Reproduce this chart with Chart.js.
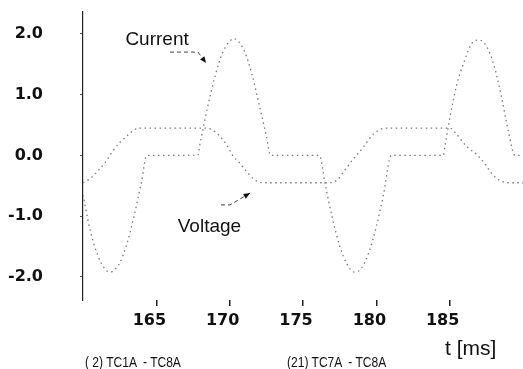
<!DOCTYPE html>
<html>
<head>
<meta charset="utf-8">
<script src="https://cdn.jsdelivr.net/npm/chart.js@4"></script>
<style>
  html, body { margin: 0; padding: 0; background: #fff; }
  #wrap { position: relative; width: 523px; height: 369px; }
  .note { position: absolute; color: #111; white-space: pre; line-height: 1; }
  .foot { font-family: "Liberation Sans Narrow", "Arial Narrow", "Liberation Sans", sans-serif; font-size: 14px; top: 355px;
          transform: scaleX(0.86); transform-origin: left center; }
  #unit { font-family: "Liberation Sans", Arial, sans-serif; font-size: 21px; left: 445px; top: 337px; }
</style>
</head>
<body>
<div id="wrap">
  <canvas id="scope" width="523" height="369"></canvas>
  <div class="note foot" style="left:85px">( 2) TC1A  - TC8A</div>
  <div class="note foot" style="left:287px">(21) TC7A  - TC8A</div>
  <div class="note" id="unit">t [ms]</div>
</div>
<script>
// time axis in ms
const currentT = [160.0, 160.5, 161.0, 161.5, 161.84, 162.0, 162.5, 163.0, 163.5, 164.0, 164.35,
                  167.82, 168.0, 168.5, 169.0, 169.5, 170.0, 170.3, 170.5, 171.0, 171.5, 172.0, 172.5, 172.79,
                  176.12, 176.5, 177.0, 177.5, 178.0, 178.5, 179.0, 179.5, 180.0, 180.5, 181.02,
                  184.56, 184.7, 185.0, 185.5, 186.0, 186.5, 187.0, 187.5, 188.0, 188.5, 189.0, 189.46, 190.0];
const currentA = [-0.65, -1.24, -1.64, -1.87, -1.92, -1.91, -1.77, -1.45, -0.98, -0.42, 0,
                  0, 0.22, 0.80, 1.30, 1.68, 1.88, 1.92, 1.90, 1.72, 1.35, 0.85, 0.32, 0,
                  0, -0.46, -1.03, -1.49, -1.79, -1.92, -1.85, -1.59, -1.17, -0.63, 0,
                  0, 0.18, 0.60, 1.18, 1.55, 1.84, 1.90, 1.80, 1.50, 1.00, 0.40, 0, 0];

const voltageT = [160.0, 160.5, 161.0, 161.5, 162.0, 162.5, 163.0, 163.5, 163.8,
                  168.3, 168.8, 169.5, 169.9, 170.2, 170.7, 171.0, 171.7, 172.3,
                  176.7, 177.3, 177.8, 178.2, 178.64, 179.0, 179.3, 179.8, 180.2, 180.7,
                  185.0, 185.4, 186.1, 186.9, 187.5, 187.8, 188.4, 189.0, 190.0];
const voltageV = [-0.45, -0.38, -0.26, -0.12, 0.06, 0.21, 0.32, 0.42, 0.45,
                  0.45, 0.42, 0.27, 0.13, 0, -0.13, -0.22, -0.40, -0.45,
                  -0.45, -0.41, -0.26, -0.13, 0, 0.10, 0.20, 0.35, 0.42, 0.45,
                  0.45, 0.37, 0.16, 0, -0.17, -0.28, -0.41, -0.45, -0.45];

const xLabels = [165, 170, 175, 180, 185];
const yLabels = [-2, -1, 0, 1, 2];

// labels inside the plot, placed in data units
const notes = [
  { text: 'Current', t: 165.05, v: 1.82 },
  { text: 'Voltage', t: 168.62, v: -1.26 }
];
const arrows = [
  [[165.93, 1.70], [167.84, 1.70], [168.39, 1.52]],
  [[169.41, -0.815], [170.02, -0.815], [171.39, -0.62]]
];

function toPoints(xs, ys) {
  return xs.map((x, i) => ({ x: x, y: ys[i] }));
}

const notePlugin = {
  id: 'notes',
  afterDatasetsDraw(chart) {
    const ctx = chart.ctx;
    const xs = chart.scales.x, ys = chart.scales.y;
    ctx.save();
    ctx.fillStyle = '#111';
    ctx.font = '19px "Liberation Sans", Arial, sans-serif';
    ctx.textAlign = 'center';
    ctx.textBaseline = 'alphabetic';
    notes.forEach(n => ctx.fillText(n.text, xs.getPixelForValue(n.t), ys.getPixelForValue(n.v)));

    ctx.strokeStyle = '#444';
    ctx.lineWidth = 1;
    arrows.forEach(a => {
      const p = a.map(q => [xs.getPixelForValue(q[0]), ys.getPixelForValue(q[1])]);
      ctx.setLineDash([4, 3]);
      ctx.beginPath();
      ctx.moveTo(p[0][0], p[0][1]);
      ctx.lineTo(p[1][0], p[1][1]);
      ctx.lineTo(p[2][0], p[2][1]);
      ctx.stroke();
      ctx.setLineDash([]);
      // arrow head
      const ang = Math.atan2(p[2][1] - p[1][1], p[2][0] - p[1][0]);
      ctx.beginPath();
      ctx.moveTo(p[2][0], p[2][1]);
      ctx.lineTo(p[2][0] - 7 * Math.cos(ang - 0.4), p[2][1] - 7 * Math.sin(ang - 0.4));
      ctx.lineTo(p[2][0] - 7 * Math.cos(ang + 0.4), p[2][1] - 7 * Math.sin(ang + 0.4));
      ctx.closePath();
      ctx.fillStyle = '#111';
      ctx.fill();
    });
    ctx.restore();
  }
};

const tickFont = { family: 'DejaVu Sans', weight: 'bold', size: 16 };

new Chart(document.getElementById('scope').getContext('2d'), {
  type: 'line',
  data: {
    datasets: [{
      label: 'Current',
      data: toPoints(currentT, currentA),
      borderColor: '#7a7a7a',
      borderWidth: 1.3,
      borderDash: [1.5, 3.5],
      pointRadius: 0,
      cubicInterpolationMode: 'monotone',
      fill: false
    }, {
      label: 'Voltage',
      data: toPoints(voltageT, voltageV),
      borderColor: '#7a7a7a',
      borderWidth: 1.3,
      borderDash: [1.5, 3.5],
      pointRadius: 0,
      cubicInterpolationMode: 'monotone',
      fill: false
    }]
  },
  options: {
    responsive: false,
    animation: false,
    layout: { padding: { top: 12, right: 0, bottom: 0, left: 0 } },
    plugins: { legend: { display: false }, tooltip: { enabled: false } },
    scales: {
      x: {
        type: 'linear',
        min: 160,
        max: 190,
        border: { display: false },
        grid: {
          drawOnChartArea: false,
          tickLength: 6,
          lineWidth: 1.5,
          color: ctx => xLabels.includes(ctx.tick && ctx.tick.value) ? '#222' : 'rgba(0,0,0,0)'
        },
        ticks: {
          stepSize: 5,
          includeBounds: false,
          autoSkip: false,
          maxRotation: 0,
          padding: 5,
          labelOffset: -7,
          color: '#111',
          font: tickFont,
          callback: v => xLabels.includes(v) ? String(v) : ''
        },
        afterFit: s => { s.height = 69; s.paddingLeft = 0; s.paddingRight = 0; }
      },
      y: {
        min: -2.38,
        max: 2.36,
        border: { display: true, color: '#222', width: 1.2 },
        grid: {
          drawOnChartArea: false,
          tickLength: 3,
          color: '#555'
        },
        ticks: {
          stepSize: 1,
          includeBounds: false,
          padding: 37,
          color: '#111',
          font: tickFont,
          callback: v => yLabels.includes(v) ? v.toFixed(1) : ''
        },
        afterFit: s => { s.width = 83; s.paddingTop = 0; s.paddingBottom = 0; }
      }
    }
  },
  plugins: [notePlugin]
});
</script>
</body>
</html>
